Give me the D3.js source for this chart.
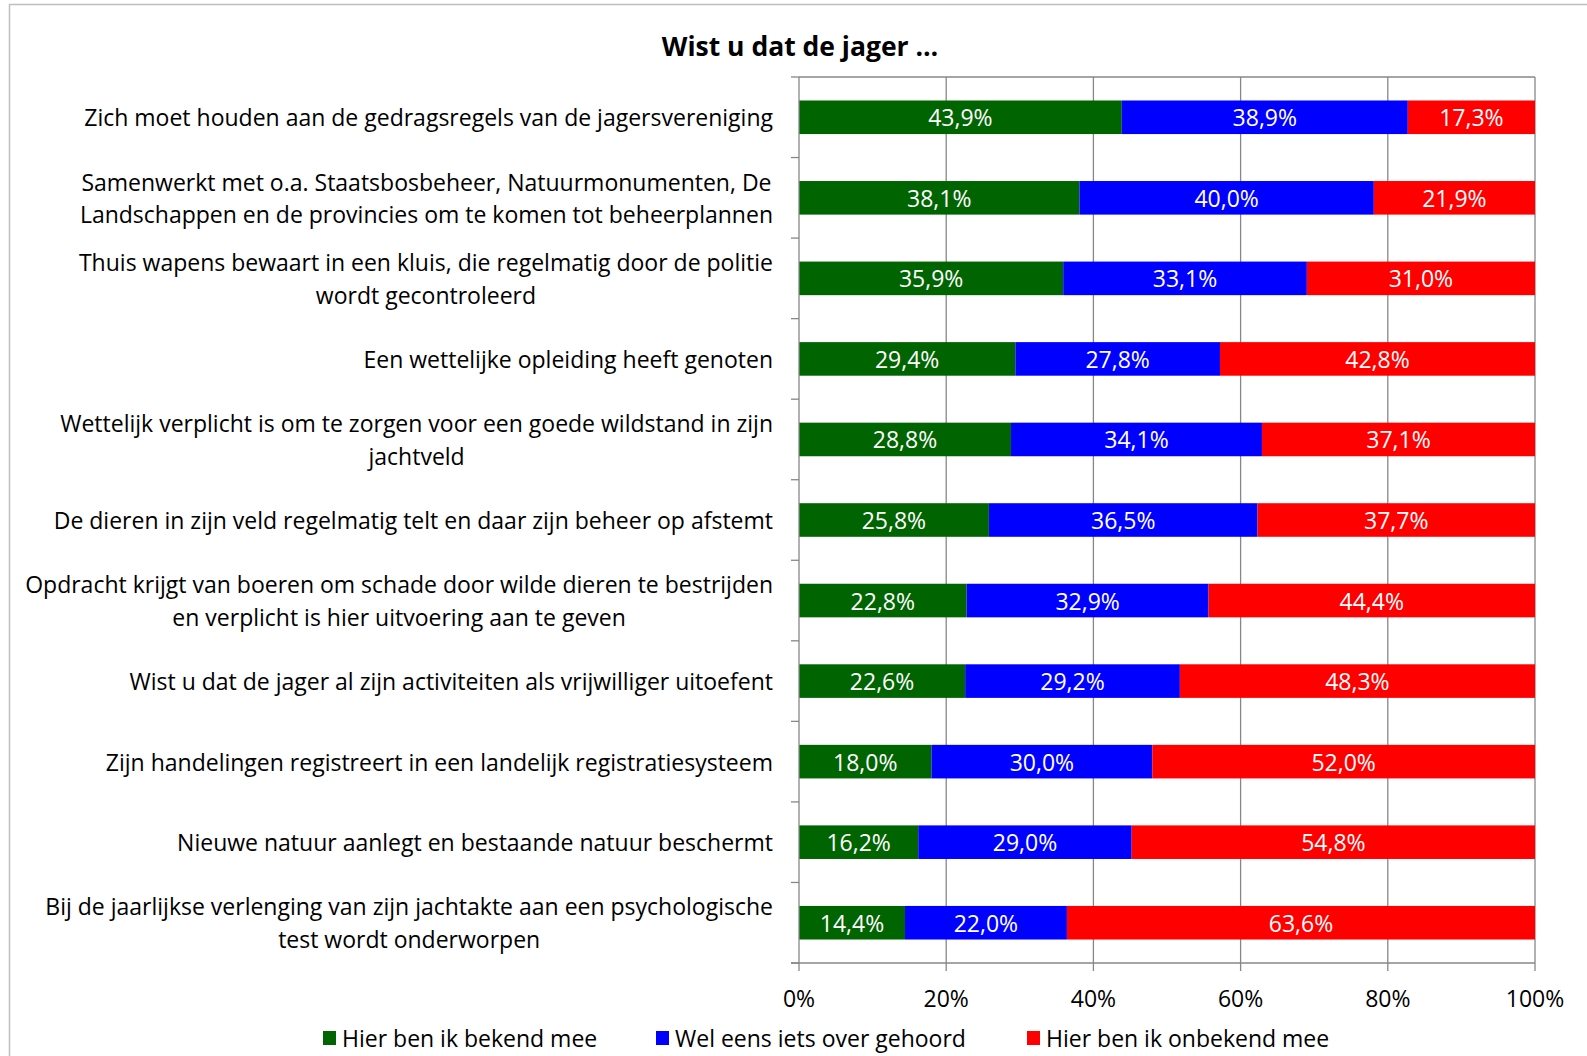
<!DOCTYPE html>
<html><head><meta charset="utf-8">
<script src="https://cdn.jsdelivr.net/npm/d3@7"></script>
<style>body{margin:0;background:#fff}svg{display:block}</style>
</head><body>
<svg id="c" width="1587" height="1056"></svg>
<script>
const categories = [
  "Zich moet houden aan de gedragsregels van de jagersvereniging",
  "Samenwerkt met o.a. Staatsbosbeheer, Natuurmonumenten, De\nLandschappen en de provincies om te komen tot beheerplannen",
  "Thuis wapens bewaart in een kluis, die regelmatig door de politie\nwordt gecontroleerd",
  "Een wettelijke opleiding heeft genoten",
  "Wettelijk verplicht is om te zorgen voor een goede wildstand in zijn\njachtveld",
  "De dieren in zijn veld regelmatig telt en daar zijn beheer op afstemt",
  "Opdracht krijgt van boeren om schade door wilde dieren te bestrijden\nen verplicht is hier uitvoering aan te geven",
  "Wist u dat de jager al zijn activiteiten als vrijwilliger uitoefent",
  "Zijn handelingen registreert in een landelijk registratiesysteem",
  "Nieuwe natuur aanlegt en bestaande natuur beschermt",
  "Bij de jaarlijkse verlenging van zijn jachtakte aan een psychologische\ntest wordt onderworpen"
];
const seriesNames = ["Hier ben ik bekend mee", "Wel eens iets over gehoord", "Hier ben ik onbekend mee"];
const bekend   = [43.9, 38.1, 35.9, 29.4, 28.8, 25.8, 22.8, 22.6, 18.0, 16.2, 14.4];
const gehoord  = [38.9, 40.0, 33.1, 27.8, 34.1, 36.5, 32.9, 29.2, 30.0, 29.0, 22.0];
const onbekend = [17.3, 21.9, 31.0, 42.8, 37.1, 37.7, 44.4, 48.3, 52.0, 54.8, 63.6];
const xTicks = [0, 0.2, 0.4, 0.6, 0.8, 1.0];
const title = "Wist u dat de jager …";
const colors = ["#006400", "#0000FF", "#FF0000"];

const FONT = "'Open Sans', sans-serif";
const FS = 23;
const svg = d3.select("#c").style("font-family", FONT);
const W = 1587, H = 1056;
const m = {left: 799, right: 1535, top: 77, bottom: 963};

// frame
svg.append("path").attr("d", `M9.5,${H} V4.5 H${W}`).attr("fill","none").attr("stroke","#bfbfbf").attr("stroke-width",1.5);

const x = d3.scaleLinear().domain([0,1]).range([m.left, m.right]);
const y = d3.scaleBand().domain(categories).range([m.top, m.bottom]).paddingInner(0.583).paddingOuter(0.2915);
const step = y.step();

// gridlines
svg.append("g").selectAll("line").data(xTicks.slice(1)).join("line")
  .attr("x1", d=>x(d)).attr("x2", d=>x(d)).attr("y1", m.top).attr("y2", m.bottom)
  .attr("stroke", "#878787").attr("stroke-width", 1.3);
// top border of plot
svg.append("line").attr("x1", m.left).attr("x2", m.right).attr("y1", m.top).attr("y2", m.top)
  .attr("stroke", "#878787").attr("stroke-width", 1.3);

// data stacking (100% stacked)
const rows = categories.map((c,i)=>({cat:c, v:[bekend[i], gehoord[i], onbekend[i]]}));
const segs = [];
rows.forEach(r=>{
  const tot = d3.sum(r.v);
  let acc = 0;
  r.v.forEach((v,k)=>{
    segs.push({cat:r.cat, k, v, x0:acc/tot, x1:(acc+v)/tot});
    acc += v;
  });
});
svg.append("g").selectAll("rect").data(segs).join("rect")
  .attr("x", d=>x(d.x0)).attr("width", d=>x(d.x1)-x(d.x0))
  .attr("y", d=>y(d.cat)).attr("height", y.bandwidth())
  .attr("fill", d=>colors[d.k]);
svg.append("g").selectAll("text").data(segs).join("text")
  .attr("x", d=>(x(d.x0)+x(d.x1))/2).attr("y", d=>y(d.cat)+y.bandwidth()/2)
  .attr("text-anchor","middle").attr("dominant-baseline","central")
  .attr("fill","#fff").attr("font-size", FS)
  .text(d=>d.v.toFixed(1).replace(".", ",") + "%");

// y axis line & ticks
const axisColor = "#878787";
svg.append("line").attr("x1", m.left).attr("x2", m.left).attr("y1", m.top).attr("y2", m.bottom)
  .attr("stroke", axisColor).attr("stroke-width", 1.3);
const bounds = d3.range(categories.length+1).map(i=>m.top + i*step);
svg.append("g").selectAll("line").data(bounds).join("line")
  .attr("x1", m.left-8).attr("x2", m.left).attr("y1", d=>d).attr("y2", d=>d)
  .attr("stroke", axisColor).attr("stroke-width", 1.3);
// x axis
svg.append("line").attr("x1", m.left-8).attr("x2", m.right).attr("y1", m.bottom).attr("y2", m.bottom)
  .attr("stroke", axisColor).attr("stroke-width", 1.3);
svg.append("g").selectAll("line").data(xTicks).join("line")
  .attr("x1", d=>x(d)).attr("x2", d=>x(d)).attr("y1", m.bottom).attr("y2", m.bottom+8)
  .attr("stroke", axisColor).attr("stroke-width", 1.3);
svg.append("g").selectAll("text").data(xTicks).join("text")
  .attr("x", d=>x(d)).attr("y", 998).attr("text-anchor","middle").attr("dominant-baseline","central")
  .attr("font-size", FS).attr("fill","#000")
  .text(d=>Math.round(d*100)+"%");

// category labels
const labelRight = 773, lineH = 32.5;
categories.forEach(c=>{
  const lines = c.split("\n");
  const g = svg.append("g");
  const ts = lines.map((l,i)=>g.append("text").attr("font-size",FS).attr("fill","#000")
     .attr("dominant-baseline","central").attr("text-anchor","middle")
     .attr("y", y(c)+y.bandwidth()/2 + (i-(lines.length-1)/2)*lineH).text(l));
  const maxW = d3.max(ts, t=>t.node().getComputedTextLength());
  ts.forEach(t=>t.attr("x", labelRight - maxW/2));
});

// title
svg.append("text").attr("x", 800).attr("y", 46).attr("text-anchor","middle").attr("dominant-baseline","central")
  .attr("font-size", 26.5).attr("font-weight","bold").text(title);

// legend
const legX = [323, 656, 1027];
const lg = svg.append("g").selectAll("g").data(seriesNames).join("g")
  .attr("transform", (d,i)=>`translate(${legX[i]},1038)`);
lg.append("rect").attr("x",0).attr("y",-7).attr("width",13).attr("height",14).attr("fill",(d,i)=>colors[i]);
lg.append("text").attr("x",19).attr("y",0).attr("dominant-baseline","central").attr("font-size",FS).text(d=>d);
</script>
</body></html>
